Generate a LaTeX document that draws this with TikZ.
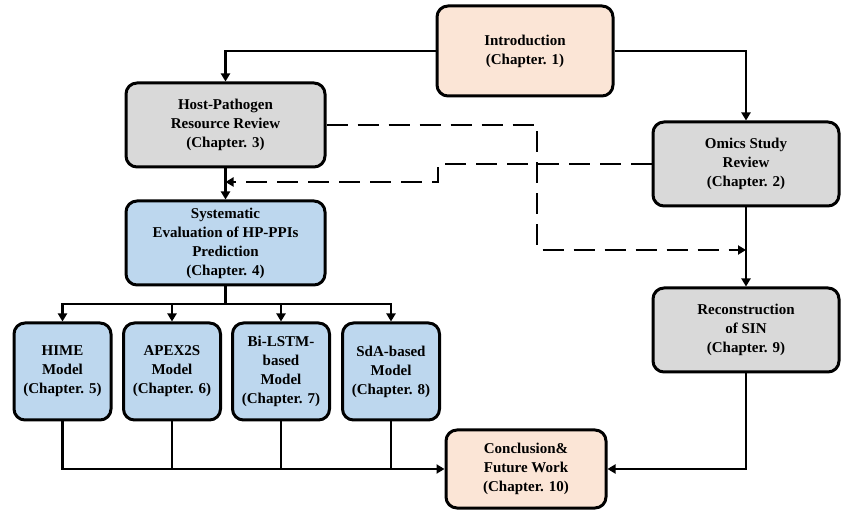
\documentclass[tikz,border=0pt]{standalone}
\usepackage{fontspec}
\setmainfont{Liberation Serif}
\usetikzlibrary{arrows.meta}

\definecolor{peach}{HTML}{FBE5D6}
\definecolor{greybox}{HTML}{D9D9D9}
\definecolor{bluebox}{HTML}{BDD7EE}

\tikzset{
	chapter/.style={draw=black,line width=3pt,rounded corners=11pt,align=center,
		font=\fontsize{15}{19}\selectfont\bfseries,inner sep=2pt},
	arr/.style={line width=2.4pt,-{Triangle[length=8pt,width=9pt]}},
	plain/.style={line width=2.4pt},
	darr/.style={line width=2.8pt,dash pattern=on 21pt off 10pt,-{Triangle[length=8pt,width=9pt]}}
}

\begin{document}
\begin{tikzpicture}[x=1pt,y=-1pt]
	\useasboundingbox (0,0) rectangle (841,510);

	% chapter boxes
	\node [chapter,fill=peach,minimum width=176pt,minimum height=90pt] (intro) at (525,51)
	{Introduction\\(Chapter. 1)};
	\node [chapter,fill=greybox,minimum width=199pt,minimum height=84pt] (host) at (225.5,125)
	{Host-Pathogen\\Resource Review\\(Chapter. 3)};
	\node [chapter,fill=greybox,minimum width=186pt,minimum height=84pt] (omics) at (746,164)
	{Omics Study\\Review\\(Chapter. 2)};
	\node [chapter,fill=bluebox,minimum width=199pt,minimum height=84pt] (sys) at (225.5,243)
	{Systematic\\Evaluation of HP-PPIs\\Prediction\\(Chapter. 4)};
	\node [chapter,fill=bluebox,minimum width=97pt,minimum height=97pt] (hime) at (62.5,371.5)
	{HIME\\Model\\(Chapter. 5)};
	\node [chapter,fill=bluebox,minimum width=97pt,minimum height=97pt] (apex) at (172,371.5)
	{APEX2S\\Model\\(Chapter. 6)};
	\node [chapter,fill=bluebox,minimum width=97pt,minimum height=97pt] (lstm) at (281,371.5)
	{Bi-LSTM-\\based\\Model\\(Chapter. 7)};
	\node [chapter,fill=bluebox,minimum width=97pt,minimum height=97pt] (sda) at (391,371.5)
	{SdA-based\\Model\\(Chapter. 8)};
	\node [chapter,fill=greybox,minimum width=186pt,minimum height=84pt] (recon) at (746,330)
	{Reconstruction\\of SIN\\(Chapter. 9)};
	\node [chapter,fill=peach,minimum width=160pt,minimum height=78pt] (concl) at (526,469)
	{Conclusion\&\\Future Work\\(Chapter. 10)};

	% solid links
	\draw [arr] (intro.west) -| (host.north);
	\draw [arr] (intro.east) -| (omics.north);
	\draw [arr] (host.south) -- (sys.north);
	\draw [arr] (omics.south) -- (recon.north);

	\coordinate (bus) at (225.5,304);
	\draw [plain] (sys.south) -- (bus);
	\foreach \m in {hime,apex,lstm,sda}
		\draw [arr] (bus) -| (\m.north);

	\draw [arr] (hime.south) |- (concl.west);
	\foreach \m in {apex,lstm,sda}
		\draw [plain] (\m.south) -- (\m.south |- concl.west);
	\draw [arr] (recon.south) |- (concl.east);

	% dashed links
	\coordinate (hbend) at (537,250);
	\coordinate (obend) at (438,182);
	\draw [darr] (host.east) -| (hbend) -- (hbend -| omics.south);
	\draw [darr] (omics.west) -| (obend) -- (obend -| host.south);
\end{tikzpicture}
\end{document}
